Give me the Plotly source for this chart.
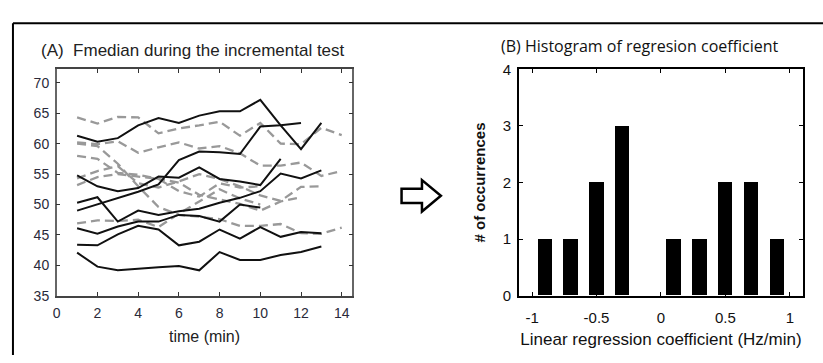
import plotly.graph_objects as go

W, H = 823, 363

# ---------------- data: panel A (Fmedian, Hz) ----------------
solid_series = [
    [61.3, 60.3, 60.9, 63.0, 64.2, 63.4, 64.6, 65.3, 65.3, 67.2, 63.0, 59.1, 63.4],
    [54.8, 53.0, 52.2, 52.7, 54.6, 54.4, 56.1, 54.2, 53.8, 53.2, 57.5],
    [49.0, 50.0, 51.0, 52.1, 53.3, 57.3, 58.7, 58.6, 58.3, 62.8, 63.0, 63.4],
    [50.3, 51.2, 47.2, 49.0, 48.3, 48.9, 49.3, 50.3, 51.1, 52.2, 55.1, 54.3, 55.6],
    [46.1, 45.2, 46.4, 47.2, 47.2, 48.3, 48.1, 47.2, 50.0, 49.5],
    [43.4, 43.3, 45.1, 46.5, 45.9, 43.3, 43.9, 45.9, 44.4, 46.3, 44.7, 45.5, 45.3],
    [42.1, 39.8, 39.2, 39.5, 39.7, 39.9, 39.2, 42.2, 40.9, 40.9, 41.7, 42.2, 43.1],
]
dashed_series = [
    [64.3, 63.3, 64.4, 64.3, 61.7, 62.5, 63.0, 63.6, 61.3, 63.4, 60.0, 59.9, 62.6, 61.4],
    [60.2, 59.9, 60.4, 58.5, 59.4, 60.2, 59.2, 59.6, 58.4, 56.4, 56.4, 56.9, 54.7, 55.5],
    [60.0, 59.6, 56.7, 53.0, 49.6, 48.3, 48.0, 47.6, 46.5, 46.5, 46.8, 45.3, 45.2, 46.2],
    [58.0, 57.5, 55.2, 54.9, 54.2, 53.6, 51.6, 50.9, 50.1, 49.0, 50.5, 51.2],
    [54.3, 55.5, 56.3, 53.5, 52.8, 53.8, 55.0, 54.2, 53.0, 51.5, 50.6, 52.9, 53.0],
    [53.2, 54.5, 55.0, 54.6, 54.2, 52.2, 51.3, 53.5, 52.8, 53.0],
    [46.9, 47.4, 47.3, 47.5, 46.3, 48.5, 50.5, 52.5, 51.0, 50.0],
]

# ---------------- data: panel B (histogram) ----------------
bin_centers = [-0.9, -0.7, -0.5, -0.3, -0.1, 0.1, 0.3, 0.5, 0.7, 0.9]
counts = [1, 1, 2, 3, 0, 1, 1, 2, 2, 1]

x_ticks_a = [0, 2, 4, 6, 8, 10, 12, 14]
y_ticks_a = [35, 40, 45, 50, 55, 60, 65, 70]
x_ticks_b = [-1, -0.5, 0, 0.5, 1]
x_tick_text_b = ["-1", "-0.5", "0", "0.5", "1"]
y_ticks_b = [0, 1, 2, 3, 4]

fig = go.Figure()

for s in dashed_series:
    fig.add_trace(go.Scatter(
        x=list(range(1, len(s) + 1)), y=s, mode="lines",
        line=dict(color="#999999", width=2.3, dash="9px,5px"),
        xaxis="x", yaxis="y", showlegend=False, hoverinfo="skip"))
for s in solid_series:
    fig.add_trace(go.Scatter(
        x=list(range(1, len(s) + 1)), y=s, mode="lines",
        line=dict(color="#111111", width=2),
        xaxis="x", yaxis="y", showlegend=False, hoverinfo="skip"))

fig.add_trace(go.Bar(
    x=bin_centers, y=counts, width=0.112, marker=dict(color="black", line=dict(width=0)),
    xaxis="x2", yaxis="y2", showlegend=False, hoverinfo="skip"))

def px_x(p):
    return p / W

def px_y(p):
    return 1 - p / H

font_a = "Liberation Sans, Arial, sans-serif"

fig.update_layout(
    width=W, height=H,
    margin=dict(l=0, r=0, t=0, b=0),
    paper_bgcolor="white", plot_bgcolor="white",
    font=dict(family=font_a, color="#222"),
    bargap=0,
    xaxis=dict(
        domain=[px_x(53), px_x(350)], range=[0, 14.52],
        tickvals=x_ticks_a, ticks="inside", ticklen=4, tickcolor="#333",
        showline=True, linecolor="#444", linewidth=1.5, mirror="ticks",
        showgrid=False, zeroline=False,
        tickfont=dict(size=14, color="#2a2a3a"), ticklabelstandoff=4,
        title=dict(text="time (min)", font=dict(size=16, color="#222"), standoff=10),
        anchor="y", fixedrange=True),
    yaxis=dict(
        domain=[px_y(301), px_y(63.3)], range=[35, 72.2],
        tickvals=y_ticks_a, ticks="inside", ticklen=4, tickcolor="#333",
        showline=True, linecolor="#666", linewidth=1.5, mirror="ticks",
        showgrid=False, zeroline=False,
        tickfont=dict(size=14, color="#2a2a3a"), ticklabelstandoff=3,
        anchor="x", fixedrange=True),
    xaxis2=dict(
        domain=[px_x(517.7), px_x(802.7)], range=[-1.1, 1.1],
        tickvals=x_ticks_b, ticktext=x_tick_text_b, ticks="inside", ticklen=4,
        tickcolor="black",
        showline=True, linecolor="black", linewidth=2, mirror="ticks",
        showgrid=False, zeroline=False,
        tickfont=dict(size=15, color="#111"), ticklabelstandoff=7,
        title=dict(text="Linear regression coefficient (Hz/min)",
                   font=dict(size=17, color="#111"), standoff=8),
        anchor="y2", fixedrange=True),
    yaxis2=dict(
        domain=[px_y(300.7), px_y(63.3)], range=[0, 4],
        tickvals=y_ticks_b, ticks="inside", ticklen=4, tickcolor="black",
        showline=True, linecolor="black", linewidth=2, mirror="ticks",
        showgrid=False, zeroline=False,
        tickfont=dict(size=15, color="#111"), ticklabelstandoff=3,
        title=dict(text="<b># of occurrences</b>", font=dict(size=15, color="#111"),
                   standoff=14),
        anchor="x2", fixedrange=True),
    annotations=[
        dict(text="(A)  Fmedian during the incremental test", x=px_x(35), y=px_y(44),
             xref="paper", yref="paper", xanchor="left", yanchor="middle",
             showarrow=False, font=dict(family=font_a, size=17, color="#222")),
        dict(text="(B) Histogram of regresion coefficient", x=px_x(497), y=px_y(39),
             xref="paper", yref="paper", xanchor="left", yanchor="middle",
             showarrow=False, font=dict(family="Open Sans, sans-serif", size=16, color="#111")),
    ],
    shapes=[
        dict(type="line", xref="paper", yref="paper", x0=px_x(9), x1=1.0,
             y0=px_y(15), y1=px_y(15), line=dict(color="black", width=2)),
        dict(type="line", xref="paper", yref="paper", x0=px_x(9), x1=px_x(9),
             y0=px_y(15), y1=0, line=dict(color="black", width=2)),
        dict(type="path", xref="paper", yref="paper",
             path=("M {a},{b} L {c},{b} L {c},{d} L {e},{f} L {c},{g} L {c},{h} L {a},{h} Z").format(
                 a=px_x(399.5), b=px_y(188.5), c=px_x(420), d=px_y(179.5),
                 e=px_x(439), f=px_y(196), g=px_y(212.5), h=px_y(203.5)),
             line=dict(color="black", width=2.5), fillcolor="white"),
    ],
)

fig.write_html("out.html")
